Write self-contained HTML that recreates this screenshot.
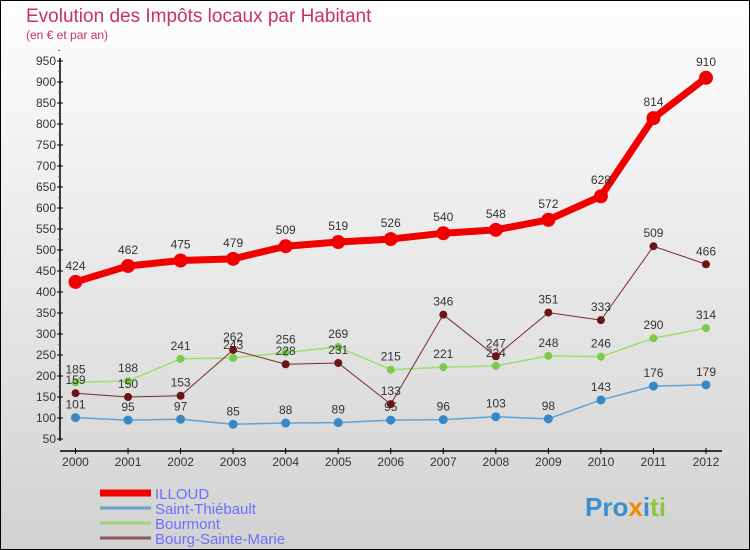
<!DOCTYPE html>
<html><head><meta charset="utf-8"><style>
body{margin:0}
#c{width:750px;height:550px;position:relative;box-sizing:border-box;border:1px solid #000;background:linear-gradient(#fefefe,#d2d2d2);font-family:"Liberation Sans",sans-serif;overflow:hidden}
</style></head><body>
<div id="c">
<svg width="750" height="550" style="position:absolute;left:-1px;top:-1px" id="svg">
<text x="26" y="22" font-size="19" fill="#c8325f">Evolution des Impôts locaux par Habitant</text>
<text x="26" y="39" font-size="12" fill="#c8325f">(en € et par an)</text>
<g id="axes"></g><g id="series"></g><g id="legend"></g>
<text x="585" y="516" font-size="26" font-weight="bold" fill="#3a8fd0">Pro<tspan fill="#f08a00">x</tspan><tspan fill="#3a8fd0">i</tspan><tspan fill="#8cc63f">ti</tspan></text>
</svg>
</div>
<script>
const years=[2000,2001,2002,2003,2004,2005,2006,2007,2008,2009,2010,2011,2012];
const yTicks=[50,100,150,200,250,300,350,400,450,500,550,600,650,700,750,800,850,900,950];
const illoud=[424,462,475,479,509,519,526,540,548,572,628,814,910];
const stThiebault=[101,95,97,85,88,89,95,96,103,98,143,176,179];
const bourmont=[185,188,241,243,256,269,215,221,224,248,246,290,314];
const bourg=[159,150,153,262,228,231,133,346,247,351,333,509,466];
const NS="http://www.w3.org/2000/svg";
const X=i=>75.5+i*(706-75.5)/12;
const Y=v=>439-(v-50)*0.42;
function mk(t,a,p){const e=document.createElementNS(NS,t);for(const k in a)e.setAttribute(k,a[k]);p.appendChild(e);return e;}
const ax=document.getElementById('axes');
let yl=mk('line',{x1:60,y1:58,x2:60,y2:441,stroke:'#000','stroke-width':1.5},ax);


yTicks.forEach(v=>{
 let t=mk('line',{x1:57,y1:Y(v),x2:63,y2:Y(v),stroke:'#000'},ax);
 
 
 mk('line',{x1:58,y1:Y(v)-10.5,x2:60,y2:Y(v)-10.5,stroke:'#f33'},ax);
 let l=mk('text',{x:56,y:Y(v)+4,'font-size':12,fill:'#333','text-anchor':'end'},ax);l.textContent=v;
 
 
});
let xl=mk('line',{x1:60,y1:451,x2:722,y2:451,stroke:'#000','stroke-width':1.5},ax);


years.forEach((y,i)=>{
 mk('line',{x1:X(i),y1:448,x2:X(i),y2:454,stroke:'#000'},ax);
 let l=mk('text',{x:X(i),y:466,'font-size':12,fill:'#333','text-anchor':'middle'},ax);l.textContent=y;
 
 
});
const sg=document.getElementById('series');
function series(d,col,dot,w,r,name){
 const g=mk('g',{},sg);
 
 
 let p=mk('polyline',{points:d.map((v,i)=>X(i)+','+Y(v)).join(' '),fill:'none',stroke:col,'stroke-width':w,'stroke-linejoin':'round'},g);
 
 
 d.forEach((v,i)=>{
  let c=mk('circle',{cx:X(i),cy:Y(v),r:r,fill:dot},g);
  
  
  let t=mk('text',{x:X(i),y:Y(v)-9-(r>5?3:0),'font-size':12,fill:'#333','text-anchor':'middle'},g);t.textContent=v;
  
  
 });
}
series(stThiebault,'#5fa3d6','#3688c6',1.5,4.5,'saint-thiebault');
series(bourmont,'#9ede70','#7acb4a',1.5,4,'bourmont');
series(bourg,'#7a2a2a','#6b1419',1,4,'bourg-sainte-marie');
series(illoud,'#f00000','#f00000',7,7,'illoud');
const lg=document.getElementById('legend');
[['ILLOUD','#f00000',7],['Saint-Thiébault','#6aa3cc',3],['Bourmont','#9ed67a',3],['Bourg-Sainte-Marie','#8a5a5a',3]].forEach((e,i)=>{
 const y=493+i*15;
 let l=mk('line',{x1:100,y1:y,x2:151,y2:y,stroke:e[1],'stroke-width':e[2]},lg);
 
 
 let t=mk('text',{x:155,y:y+6,'font-size':15,fill:'#6f6fff'},lg);t.textContent=e[0];
 
 
});
</script>
</body></html>
